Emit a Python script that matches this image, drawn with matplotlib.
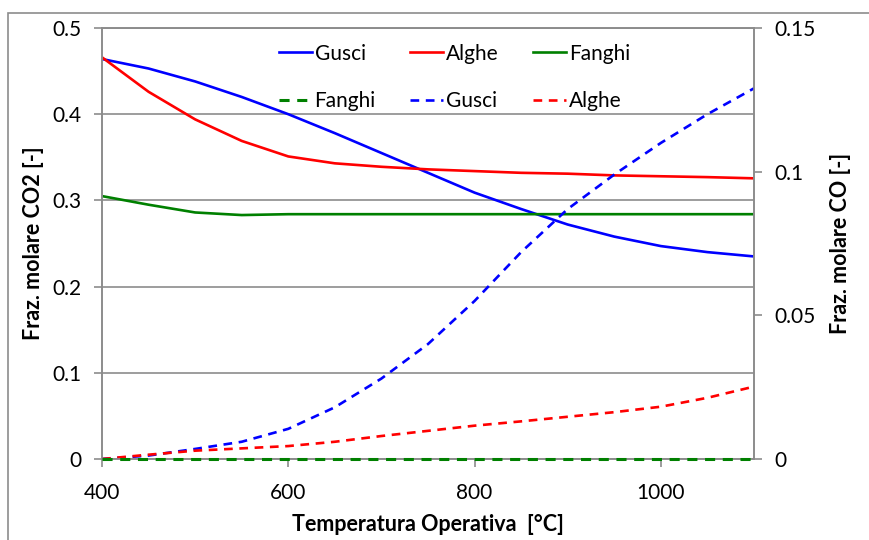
import matplotlib
matplotlib.use("Agg")
from matplotlib import pyplot as plt
from matplotlib.patches import Rectangle

# Temperature grid [°C]
temp = [400, 450, 500, 550, 600, 650, 700, 750, 800, 850, 900, 950, 1000, 1050, 1100]

# CO2 molar fraction (left axis)
co2_gusci = [0.464, 0.453, 0.438, 0.420, 0.400, 0.378, 0.355, 0.332, 0.309, 0.290, 0.272, 0.258, 0.247, 0.240, 0.235]
co2_alghe = [0.466, 0.426, 0.394, 0.369, 0.351, 0.343, 0.339, 0.336, 0.334, 0.332, 0.331, 0.329, 0.328, 0.327, 0.3256]
co2_fanghi = [0.305, 0.295, 0.286, 0.283, 0.284, 0.284, 0.284, 0.284, 0.284, 0.284, 0.284, 0.284, 0.284, 0.284, 0.284]

# CO molar fraction (right axis)
co_fanghi = [0, 0, 0, 0, 0, 0, 0, 0, 0, 0, 0, 0, 0, 0, 0]
co_gusci = [0, 0.0012, 0.0035, 0.006, 0.0105, 0.018, 0.028, 0.040, 0.055, 0.072, 0.087, 0.099, 0.110, 0.120, 0.129]
co_alghe = [0, 0.0015, 0.0029, 0.0037, 0.0045, 0.006, 0.008, 0.0098, 0.0116, 0.0131, 0.0147, 0.0163, 0.0182, 0.0213, 0.0252]

xticks = [400, 600, 800, 1000]
yticks_left = [0, 0.1, 0.2, 0.3, 0.4, 0.5]
yticks_right = [0, 0.05, 0.1, 0.15]

plt.rcParams['font.family'] = ['Lato', 'DejaVu Sans']
grey = '#8c8c8c'
lw = 1.9
dash = (3.3, 2.5)

fig = plt.figure(figsize=(8.69, 5.4), dpi=100)
ax = fig.add_axes([102/869, 81/540, 652/869, 431/540])
ax2 = ax.twinx()

l_gusci, = ax.plot(temp, co2_gusci, color='#0000ff', lw=lw, label='Gusci')
l_alghe, = ax.plot(temp, co2_alghe, color='#ff0000', lw=lw, label='Alghe')
l_fanghi, = ax.plot(temp, co2_fanghi, color='#008000', lw=lw, label='Fanghi')

d_fanghi, = ax2.plot(temp, co_fanghi, color='#008000', lw=lw + 0.3, dashes=dash, label='Fanghi',
                     clip_on=False, zorder=3)
d_gusci, = ax2.plot(temp, co_gusci, color='#0000ff', lw=lw, dashes=dash, label='Gusci')
d_alghe, = ax2.plot(temp, co_alghe, color='#ff0000', lw=lw, dashes=dash, label='Alghe')

ax.set_xlim(400, 1100)
ax.set_ylim(0, 0.5)
ax2.set_ylim(0, 0.15)

ax.set_xticks(xticks)
ax.set_xticklabels([str(t) for t in xticks])
ax.set_yticks(yticks_left)
ax.set_yticklabels(['0', '0.1', '0.2', '0.3', '0.4', '0.5'])
ax2.set_yticks(yticks_right)
ax2.set_yticklabels(['0', '0.05', '0.1', '0.15'])

ax.yaxis.grid(True, color=grey, lw=1.2)
ax.set_axisbelow(True)

for a in (ax, ax2):
    for s in a.spines.values():
        s.set_color(grey)
        s.set_linewidth(1.2)
    a.tick_params(colors=grey, labelcolor='black', labelsize=15, length=6, width=1.2, direction='out')
ax.tick_params(axis='x', pad=11)
ax.tick_params(axis='y', pad=9)
ax2.tick_params(axis='y', pad=9)

ax.set_xlabel('Temperatura Operativa  [°C]', fontsize=15.5, fontweight='bold', labelpad=8)
ax.set_ylabel('Fraz. molare CO2 [-]', fontsize=15.5, fontweight='bold', labelpad=6)
ax2.set_ylabel('Fraz. molare CO [-]', fontsize=15.5, fontweight='bold', labelpad=10)

# two rows: solid CO2 series on top, dashed CO series below
handles = [l_gusci, d_fanghi, l_alghe, d_gusci, l_fanghi, d_alghe]
ax2.legend(handles, [h.get_label() for h in handles], ncol=3, frameon=False,
           fontsize=15, loc='upper left', bbox_to_anchor=(260/869, 1 - 25/540),
           bbox_transform=fig.transFigure, handlelength=1.6, handletextpad=0.12,
           columnspacing=1.65, labelspacing=1.3)

# outer chart frame
fig.patches.append(Rectangle((8/869, -0.1), 1.2, 1 - 13/540 + 0.1, transform=fig.transFigure,
                             fill=False, edgecolor=grey, lw=1.2))

fig.savefig('out.png', dpi=100)
